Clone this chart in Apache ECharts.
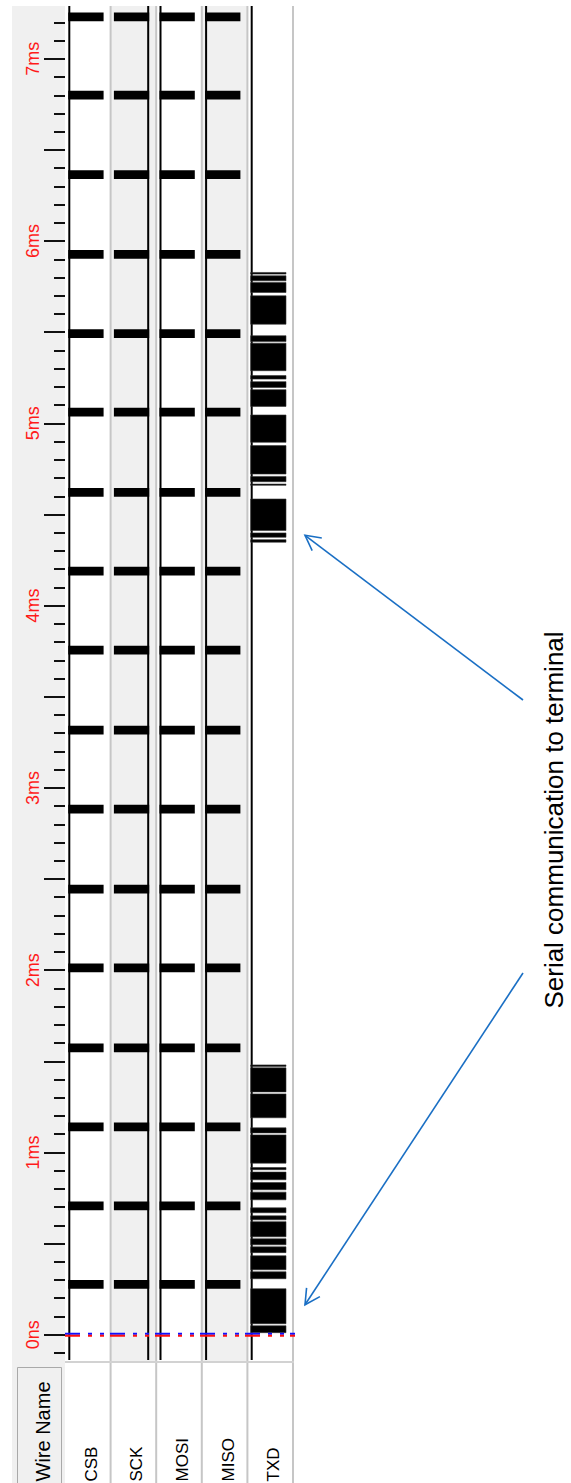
<!DOCTYPE html>
<html><head><meta charset="utf-8">
<script src="https://cdn.jsdelivr.net/npm/echarts@6/dist/echarts.min.js"></script>
<style>html,body{margin:0;padding:0;background:#fff}#c{width:571px;height:1483px}</style>
</head><body><div id="c"></div>
<script>
// ---------------- data ----------------
const channels = ['CSB', 'SCK', 'MOSI', 'MISO', 'TXD'];
const idleLevel = ['H', 'L', 'H', 'H', 'H'];
const spiChannels = [0, 1, 2, 3];
// SPI burst centres (ms) and burst length (ms)
const spiBurstCenterMs = [0.276, 0.707, 1.140, 1.573, 2.012, 2.445, 2.884, 3.317, 3.756,
  4.189, 4.622, 5.062, 5.493, 5.927, 6.365, 6.801, 7.231];
const spiBurstLenMs = 0.048;
// TXD activity blocks (ms)
const txdStartMs = [0.011, 0.060, 0.307, 0.356, 0.450, 0.493, 0.537, 0.630, 0.669, 0.740, 0.795,
  0.850, 0.905, 0.941, 1.107, 1.190, 1.332, 1.472,
  4.348, 4.375, 4.412, 4.660, 4.680, 4.722, 4.896, 5.093, 5.197, 5.243, 5.289, 5.449, 5.544,
  5.718, 5.782, 5.819];
const txdEndMs = [0.049, 0.252, 0.345, 0.433, 0.482, 0.526, 0.620, 0.652, 0.696, 0.782, 0.835,
  0.892, 0.917, 1.096, 1.135, 1.321, 1.464, 1.480,
  4.362, 4.399, 4.585, 4.667, 4.709, 4.878, 5.046, 5.185, 5.229, 5.262, 5.440, 5.481, 5.700,
  5.773, 5.810, 5.828];
const tickLabelMs = [0, 1, 2, 3, 4, 5, 6, 7];
const tickLabels = ['0ns', '1ms', '2ms', '3ms', '4ms', '5ms', '6ms', '7ms'];
const majorTickMs = [0, 0.5, 1, 1.5, 2, 2.5, 3, 3.5, 4, 4.5, 5, 5.5, 6, 6.5, 7];
const minorTickMs = [];
for (let k = -1; k <= 72; k++) minorTickMs.push(Math.round(k) / 10);
const cursorMs = [0];
const annotationText = 'Serial communication to terminal';
const arrowTargetMs = [4.386, 0.164];
const headerText = 'Wire Name';

// ---------------- layout ----------------
const Y_MIN = -0.15, Y_MAX = 7.29;
const HI = 4.3, LO = 37.6;           // px offsets of high / low level inside a column
const FONT = "'Liberation Sans',Arial,sans-serif";

const chart = echarts.init(document.getElementById('c'), null, { renderer: 'svg', width: 571, height: 1483 });

function colX(api, i) { return api.coord([i, 0])[0]; }

const option = {
  animation: false,
  backgroundColor: '#fff',
  grid: { left: 65, top: 6, width: 228, height: 1356, containLabel: false, outerBoundsMode: 'none' },
  xAxis: { type: 'value', min: 0, max: 5, show: false },
  yAxis: [
    { type: 'value', min: Y_MIN, max: Y_MAX, position: 'left',
      axisLine: { show: false }, splitLine: { show: false },
      axisTick: { show: true, length: 11, lineStyle: { color: '#111', width: 2 }, customValues: minorTickMs },
      axisLabel: { show: false } },
    { type: 'value', min: Y_MIN, max: Y_MAX, position: 'left',
      axisLine: { show: false }, splitLine: { show: false },
      axisTick: { show: true, length: 21, lineStyle: { color: '#111', width: 2 }, customValues: majorTickMs },
      axisLabel: { show: true, customValues: tickLabelMs, rotate: 90, margin: 23, color: '#ff1a1a',
        fontSize: 18, fontFamily: FONT,
        formatter: v => tickLabels[tickLabelMs.indexOf(Math.round(v))] } }
  ],
  series: [
    { // column backgrounds + separators
      type: 'custom', clip: false, z: 1, silent: true,
      data: channels.map((c, i) => [i, Y_MIN]),
      renderItem: (p, api) => {
        const i = api.value(0);
        const x0 = colX(api, i), x1 = colX(api, i + 1);
        const yT = api.coord([i, Y_MAX])[1], yB = api.coord([i, Y_MIN])[1];
        return { type: 'group', children: [
          { type: 'rect', z2: 0, shape: { x: x0, y: yT, width: x1 - x0, height: yB - yT },
            style: { fill: i % 2 ? '#f0f0f0' : '#ffffff' } },
          { type: 'line', z2: 5, shape: { x1: x1, y1: yT, x2: x1, y2: api.getHeight() },
            style: { stroke: '#c6c6c6', lineWidth: 2 } }
        ] };
      }
    },
    { // idle signal lines
      type: 'custom', clip: false, z: 3, silent: true,
      data: channels.map((c, i) => [i, Y_MIN]),
      renderItem: (p, api) => {
        const i = api.value(0);
        const x = colX(api, i) + (idleLevel[i] === 'H' ? HI : LO);
        const yT = api.coord([i, Y_MAX])[1], yB = api.coord([i, Y_MIN])[1];
        return { type: 'line', shape: { x1: x, y1: yT, x2: x, y2: yB - 2 },
          style: { stroke: '#000', lineWidth: 2 } };
      }
    },
    { // SPI bursts
      type: 'custom', clip: false, z: 4, silent: true,
      data: spiChannels.flatMap(ch => spiBurstCenterMs.map(c => [ch, c - spiBurstLenMs / 2, c + spiBurstLenMs / 2])),
      renderItem: (p, api) => {
        const i = api.value(0);
        const x0 = colX(api, i);
        const y0 = api.coord([i, api.value(2)])[1], y1 = api.coord([i, api.value(1)])[1];
        return { type: 'rect', shape: { x: x0 + HI - 1, y: y0, width: LO - HI + 2, height: y1 - y0 },
          style: { fill: '#000' } };
      }
    },
    { // TXD blocks
      type: 'custom', clip: false, z: 4, silent: true,
      data: txdStartMs.map((s, k) => [4, s, txdEndMs[k]]),
      renderItem: (p, api) => {
        const i = api.value(0);
        const x0 = colX(api, i);
        const y0 = api.coord([i, api.value(2)])[1], y1 = api.coord([i, api.value(1)])[1];
        return { type: 'rect', shape: { x: x0 + HI - 1, y: y0, width: LO - HI + 2, height: Math.max(1, y1 - y0) },
          style: { fill: '#000', stroke: '#333', lineWidth: 0.6 } };
      }
    },
    { // cursor at t = 0
      type: 'custom', clip: false, z: 6, silent: true,
      data: cursorMs.map(t => [0, t]),
      renderItem: (p, api) => {
        const pt = api.coord([0, api.value(1)]);
        const xe = colX(api, 5) + 2;
        const dash = [15, 8, 4, 8, 4, 6];
        return { type: 'group', children: [
          { type: 'line', shape: { x1: pt[0], y1: pt[1] - 1, x2: xe, y2: pt[1] - 1 },
            style: { stroke: '#1010ff', lineWidth: 2, lineDash: dash } },
          { type: 'line', shape: { x1: pt[0], y1: pt[1] + 1, x2: xe, y2: pt[1] + 1 },
            style: { stroke: '#ff1010', lineWidth: 2, lineDash: dash } }
        ] };
      }
    },
    { // wire names
      type: 'custom', clip: false, z: 5, silent: true,
      data: channels.map((c, i) => [i, Y_MIN]),
      renderItem: (p, api) => {
        const i = api.value(0);
        const xc = (colX(api, i) + colX(api, i + 1)) / 2 + 3.5;
        return { type: 'text', x: xc, y: api.getHeight() - 1.5, rotation: Math.PI / 2,
          style: { text: channels[i], font: '17px ' + FONT, fill: '#000', align: 'left', verticalAlign: 'middle' } };
      }
    }
  ]
};
chart.setOption(option);

// ---------- chrome + annotation ----------
function arrow(tail, tip) {
  const dx = tip[0] - tail[0], dy = tip[1] - tail[1];
  const len = Math.hypot(dx, dy), ux = dx / len, uy = dy / len;
  const a = 28 * Math.PI / 180, h = 17;
  const r = (s) => [tip[0] - h * (ux * Math.cos(s * a) - uy * Math.sin(s * a)),
                    tip[1] - h * (uy * Math.cos(s * a) + ux * Math.sin(s * a))];
  const st = { stroke: '#1a6fc4', lineWidth: 1.6, fill: null };
  return [
    { type: 'polyline', shape: { points: [tail, tip] }, style: st },
    { type: 'polyline', shape: { points: [r(1), tip, r(-1)] }, style: st }
  ];
}
const gridRight = chart.convertToPixel({ gridIndex: 0 }, [5, 0])[0];
const tipA = chart.convertToPixel({ gridIndex: 0 }, [5, arrowTargetMs[0]]);
const tipB = chart.convertToPixel({ gridIndex: 0 }, [5, arrowTargetMs[1]]);
const gridBottom = chart.convertToPixel({ gridIndex: 0 }, [0, Y_MIN])[1];
const gridTop = chart.convertToPixel({ gridIndex: 0 }, [0, Y_MAX])[1];

chart.setOption({
  graphic: [
    { type: 'rect', z: -5, silent: true, shape: { x: 12, y: gridTop, width: 53, height: 1483 - gridTop },
      style: { fill: '#f0f0f0' } },
    { type: 'rect', z: 10, silent: true, shape: { x: 65, y: gridBottom - 1, width: gridRight - 65 + 1, height: 2 },
      style: { fill: '#d2d2d2' } },
    { type: 'rect', z: 10, silent: true, shape: { x: 17.5, y: gridBottom + 5.5, width: 44, height: 130 },
      style: { fill: '#f0f0f0', stroke: '#a9a9a9', lineWidth: 1 } },
    { type: 'text', z: 11, silent: true, x: 42.5, y: 1481.5, rotation: Math.PI / 2,
      style: { text: headerText, font: '20px ' + FONT, fill: '#000', align: 'left', verticalAlign: 'middle' } },
    { type: 'text', z: 11, silent: true, x: 554, y: 820, rotation: Math.PI / 2,
      style: { text: annotationText, font: '26px ' + FONT, fill: '#000', align: 'center', verticalAlign: 'middle' } },
    ...arrow([523, 700], [tipA[0] + 12, tipA[1]]),
    ...arrow([523, 973], [tipB[0] + 12, tipB[1]])
  ]
});
</script>
</body></html>
